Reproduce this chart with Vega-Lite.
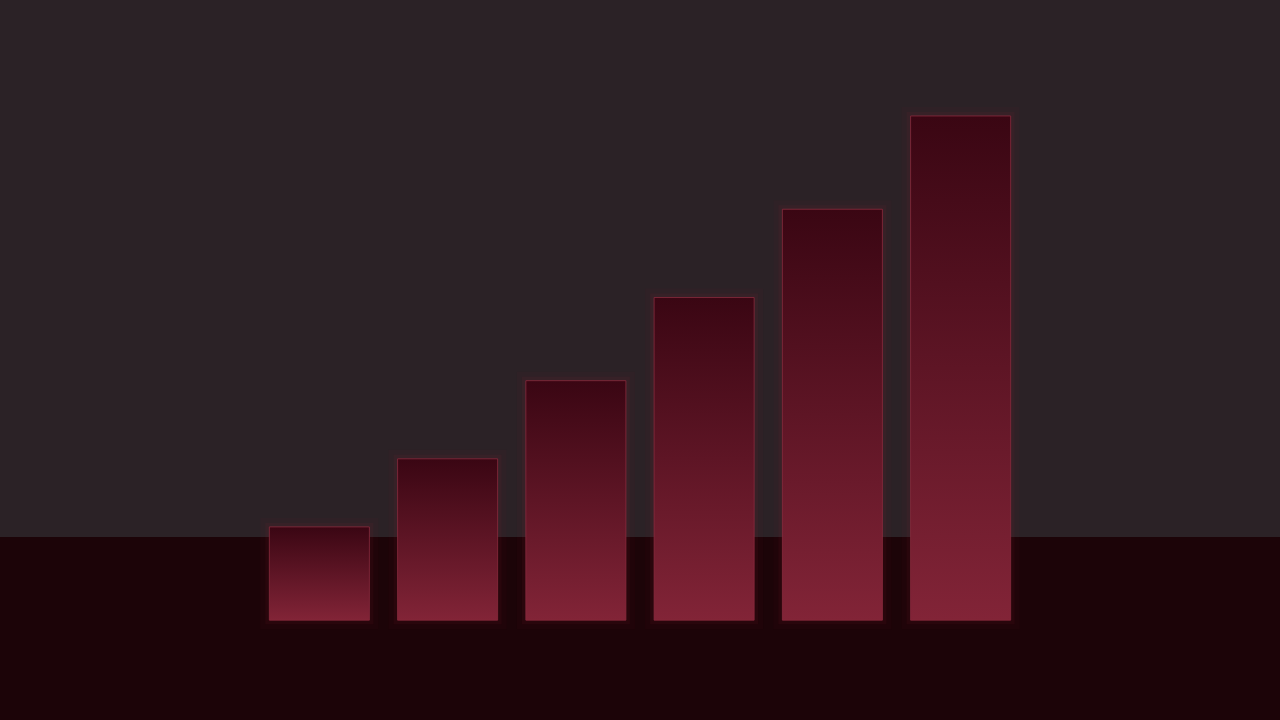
{
  "$schema": "https://vega.github.io/schema/vega-lite/v6.json",
  "description": "Six rising bars on a dark wall and floor",
  "width": 1280,
  "height": 720,
  "padding": 0,
  "autosize": {"type": "fit", "contains": "padding"},
  "background": "#2b2226",
  "config": {"view": {"stroke": null}, "axis": {"disable": true}},
  "data": {
    "values": [
      {"step": "1", "value": 18.5},
      {"step": "2", "value": 32},
      {"step": "3", "value": 47.5},
      {"step": "4", "value": 64},
      {"step": "5", "value": 81.5},
      {"step": "6", "value": 100}
    ]
  },
  "layer": [
    {
      "data": {"values": [{}]},
      "mark": {"type": "rect", "color": "#1c0408"},
      "encoding": {
        "y": {
          "datum": 16.5,
          "type": "quantitative",
          "scale": {"domain": [-19.8, 123], "nice": false, "zero": false}
        },
        "y2": {"datum": -19.8}
      }
    },
    {
      "mark": {
        "type": "bar",
        "fillOpacity": 0,
        "stroke": "#a3263f",
        "strokeWidth": 18,
        "strokeOpacity": 0.04
      },
      "encoding": {
        "x": {
          "field": "step",
          "type": "ordinal",
          "scale": {
            "domain": ["a", "b", "1", "2", "3", "4", "5", "6", "c", "d"],
            "paddingInner": 0.22,
            "paddingOuter": 0.1
          }
        },
        "y": {"field": "value", "type": "quantitative"}
      }
    },
    {
      "mark": {
        "type": "bar",
        "fillOpacity": 0,
        "stroke": "#a3263f",
        "strokeWidth": 8,
        "strokeOpacity": 0.07
      },
      "encoding": {
        "x": {"field": "step", "type": "ordinal"},
        "y": {"field": "value", "type": "quantitative"}
      }
    },
    {
      "mark": {
        "type": "bar",
        "stroke": "#8a2a3d",
        "strokeWidth": 1,
        "strokeOpacity": 0.8,
        "color": {
          "gradient": "linear",
          "x1": 0, "y1": 0, "x2": 0, "y2": 1,
          "stops": [
            {"offset": 0, "color": "#3a0613"},
            {"offset": 1, "color": "#822437"}
          ]
        }
      },
      "encoding": {
        "x": {"field": "step", "type": "ordinal"},
        "y": {"field": "value", "type": "quantitative"}
      }
    }
  ]
}
